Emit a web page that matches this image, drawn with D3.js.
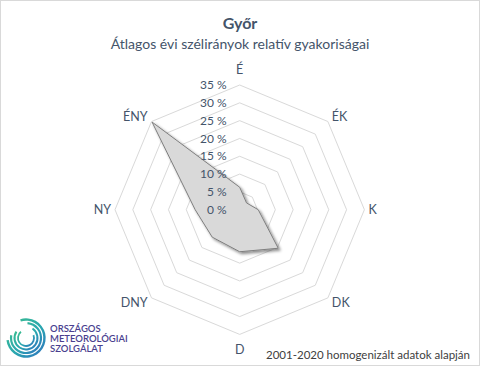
<!DOCTYPE html>
<html>
<head>
<meta charset="utf-8">
<script src="https://cdn.jsdelivr.net/npm/d3@7"></script>
<style>
  body { margin: 0; background: #fff; }
  text { font-family: Lato, "Noto Sans", sans-serif; }
</style>
</head>
<body>
<div id="chart"></div>
<script>
// data
var directions = ["É", "ÉK", "K", "DK", "D", "DNY", "NY", "ÉNY"];
var frequencies = [6.3, 2.7, 5.2, 15.3, 11.8, 10.9, 12.5, 34.8];
var tickValues = [0, 5, 10, 15, 20, 25, 30, 35];
var tickLabels = ["0 %", "5 %", "10 %", "15 %", "20 %", "25 %", "30 %", "35 %"];

var svgWidth = 480;
var svgHeight = 366;
var cx = 239.7, cy = 209.7;
var outerRadius = 124.7;

var svg = d3.select("#chart").append("svg")
  .attr("width", svgWidth)
  .attr("height", svgHeight);

// frame
svg.append("rect")
  .attr("x", 0.5).attr("y", 0.5)
  .attr("width", svgWidth - 1).attr("height", svgHeight - 1)
  .attr("fill", "#fff")
  .attr("stroke", "#d9d9d9");

// shadow filter
var defs = svg.append("defs");
var shadow = defs.append("filter").attr("id", "shadow")
  .attr("x", "-20%").attr("y", "-20%").attr("width", "140%").attr("height", "140%");
shadow.append("feDropShadow")
  .attr("dx", 2).attr("dy", 2).attr("stdDeviation", 1.8)
  .attr("flood-color", "#000").attr("flood-opacity", 0.45);

var grad = defs.append("linearGradient").attr("id", "logoGrad")
  .attr("x1", "0%").attr("y1", "0%").attr("x2", "100%").attr("y2", "100%");
grad.append("stop").attr("offset", "0%").attr("stop-color", "#3cbf8a");
grad.append("stop").attr("offset", "55%").attr("stop-color", "#2aa7b0");
grad.append("stop").attr("offset", "100%").attr("stop-color", "#2f6fc0");

// titles
svg.append("text")
  .attr("x", 240).attr("y", 29)
  .attr("text-anchor", "middle")
  .attr("font-size", 16).attr("font-weight", "bold")
  .attr("fill", "#44546a")
  .text("Győr");

svg.append("text")
  .attr("x", 240).attr("y", 49)
  .attr("text-anchor", "middle")
  .attr("font-size", 14)
  .attr("fill", "#44546a")
  .text("Átlagos évi szélirányok relatív gyakoriságai");

// scales
var rScale = d3.scaleLinear().domain([0, 35]).range([0, outerRadius]);
var angleScale = d3.scaleBand().domain(directions).range([0, 2 * Math.PI]).align(0);
function angleOf(d) { return angleScale(d); }

var chartGroup = svg.append("g")
  .attr("transform", `translate(${cx}, ${cy})`);

// grid rings (octagons)
var ringLine = d3.lineRadial()
  .angle(d => angleOf(d.dir))
  .radius(d => rScale(d.v))
  .curve(d3.curveLinearClosed);

chartGroup.selectAll(".ring")
  .data(tickValues.filter(t => t > 0))
  .enter()
  .append("path")
  .attr("class", "ring")
  .attr("d", t => ringLine(directions.map(dir => ({ dir: dir, v: t }))))
  .attr("fill", "none")
  .attr("stroke", "#d9d9d9")
  .attr("stroke-width", 1);

// data polygon
var dataLine = d3.lineRadial()
  .angle((d, i) => angleOf(directions[i]))
  .radius(d => rScale(d))
  .curve(d3.curveLinearClosed);

chartGroup.append("path")
  .attr("d", dataLine(frequencies))
  .attr("fill", "#d9d9d9")
  .attr("stroke", "#7f7f7f")
  .attr("stroke-width", 1)
  .attr("stroke-linejoin", "round")
  .attr("filter", "url(#shadow)");

// tick labels
chartGroup.selectAll(".tick-label")
  .data(tickValues)
  .enter()
  .append("text")
  .attr("class", "tick-label")
  .attr("x", -13)
  .attr("y", t => -rScale(t))
  .attr("dy", "0.35em")
  .attr("text-anchor", "end")
  .attr("font-size", 12)
  .attr("fill", "#44546a")
  .text((t, i) => tickLabels[i]);

// direction labels, placed just outside the outer ring vertices
function sinOf(d) { return Math.sin(angleOf(d)); }
function cosOf(d) { return Math.cos(angleOf(d)); }
chartGroup.selectAll(".dir-label")
  .data(directions)
  .enter()
  .append("text")
  .attr("class", "dir-label")
  .attr("x", d => {
    var s = sinOf(d);
    var side = Math.abs(s) < 0.1 ? 0 : (s > 0 ? 1 : -1);
    return s * outerRadius + side * 4;
  })
  .attr("y", d => {
    var c = cosOf(d);
    var s = sinOf(d);
    return -c * outerRadius - c * (Math.abs(s) < 0.1 ? 15.5 : 6.5);
  })
  .attr("dy", "0.35em")
  .attr("text-anchor", d => {
    var s = sinOf(d);
    return Math.abs(s) < 0.1 ? "middle" : (s > 0 ? "start" : "end");
  })
  .attr("font-size", 12.5)
  .attr("fill", "#44546a")
  .text(d => d);

// footnote
svg.append("text")
  .attr("x", 470).attr("y", 359)
  .attr("text-anchor", "end")
  .attr("font-size", 11.5)
  .attr("fill", "#404040")
  .text("2001-2020 homogenizált adatok alapján");

// logo
var logo = svg.append("g").attr("transform", "translate(26, 338)");
var arcs = [
  { r: 18.5, start: -0.3, end: 4.6, w: 2.4 },
  { r: 15, start: 0.1, end: 4.9, w: 2.2 },
  { r: 11.5, start: 0.6, end: 5.3, w: 2 },
  { r: 8, start: 1.2, end: 5.6, w: 1.8 }
];
logo.selectAll("path")
  .data(arcs)
  .enter()
  .append("path")
  .attr("d", d => d3.arc()({ innerRadius: d.r - d.w / 2, outerRadius: d.r + d.w / 2, startAngle: d.start, endAngle: d.end }))
  .attr("fill", "url(#logoGrad)");

var logoText = ["ORSZÁGOS", "METEOROLÓGIAI", "SZOLGÁLAT"];
svg.selectAll(".logo-text")
  .data(logoText)
  .enter()
  .append("text")
  .attr("class", "logo-text")
  .attr("x", 50)
  .attr("y", (d, i) => 331.5 + i * 10)
  .attr("font-size", 9.5)
  .attr("font-weight", 600)
  .attr("fill", "#4a3f8f")
  .text(d => d);
</script>
</body>
</html>
